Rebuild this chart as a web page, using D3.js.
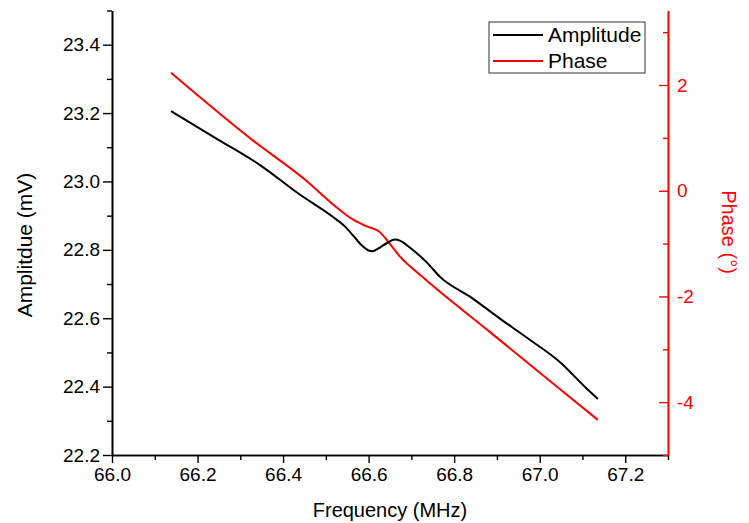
<!DOCTYPE html>
<html>
<head>
<meta charset="utf-8">
<script src="https://cdn.jsdelivr.net/npm/d3@7"></script>
<style>
  body { margin: 0; background: #fff; }
  text { font-family: "Liberation Sans", Arial, sans-serif; }
</style>
</head>
<body>
<div id="chart"></div>
<script>
// data
var ampFreq  = [66.138, 66.246, 66.346, 66.440, 66.517, 66.545, 66.565, 66.585, 66.600, 66.610, 66.620,
                66.643, 66.662, 66.673, 66.697, 66.737, 66.767, 66.837, 66.907, 66.977, 67.047, 67.106, 67.136];
var ampValue = [23.206, 23.124, 23.048, 22.961, 22.896, 22.868, 22.840, 22.812, 22.798, 22.796, 22.802,
                22.820, 22.830, 22.827, 22.806, 22.762, 22.721, 22.663, 22.599, 22.537, 22.472, 22.399, 22.364];

var phaseFreq  = [66.138, 66.327, 66.451, 66.517, 66.563, 66.596, 66.627, 66.645, 66.673, 66.727, 66.884, 67.047, 67.136];
var phaseValue = [2.231, 0.967, 0.212, -0.260, -0.543, -0.675, -0.788, -0.958, -1.241, -1.637, -2.675, -3.750, -4.335];

var xTicks = [66.0, 66.2, 66.4, 66.6, 66.8, 67.0, 67.2];
var xMinor = [66.1, 66.3, 66.5, 66.7, 66.9, 67.1, 67.3];
var ampTicks = [22.2, 22.4, 22.6, 22.8, 23.0, 23.2, 23.4];
var ampMinor = [22.3, 22.5, 22.7, 22.9, 23.1, 23.3, 23.5];
var phaseTicks = [-4, -2, 0, 2];
var phaseMinor = [-5, -3, -1, 1, 3];

var width = 749, height = 523;
var pLeft = 112, pRight = 668, pTop = 10.5, pBottom = 455;

var svg = d3.select("#chart")
  .append("svg")
    .attr("width", width)
    .attr("height", height);

var x = d3.scaleLinear().domain([66.0, 67.3]).range([pLeft, pRight]);
var yA = d3.scaleLinear().domain([22.2, 23.5]).range([pBottom, pTop]);
var yP = d3.scaleLinear().domain([-5, 3.41]).range([pBottom, pTop]);

function style(g, color) {
  g.select(".domain").attr("stroke", color).attr("stroke-width", 1.6);
  g.selectAll(".tick line").attr("stroke", color).attr("stroke-width", 1.4);
  g.selectAll(".tick text").attr("fill", color).style("font-size", "19px")
    .style("font-family", "'Liberation Sans', Arial, sans-serif");
}

// bottom axis
var gx = svg.append("g")
  .attr("transform", "translate(0," + pBottom + ")")
  .call(d3.axisBottom(x).tickValues(xTicks).tickFormat(d3.format(".1f")).tickSize(8).tickSizeOuter(0).tickPadding(5));
style(gx, "#000");
var gx2 = svg.append("g")
  .attr("transform", "translate(0," + pBottom + ")")
  .call(d3.axisBottom(x).tickValues(xMinor).tickFormat("").tickSize(5).tickSizeOuter(0));
style(gx2, "#000");

// left axis
var gy = svg.append("g")
  .attr("transform", "translate(" + pLeft + ",0)")
  .call(d3.axisLeft(yA).tickValues(ampTicks).tickFormat(d3.format(".1f")).tickSize(9).tickSizeOuter(0).tickPadding(3));
style(gy, "#000");
var gy2 = svg.append("g")
  .attr("transform", "translate(" + pLeft + ",0)")
  .call(d3.axisLeft(yA).tickValues(ampMinor).tickFormat("").tickSize(5).tickSizeOuter(0));
style(gy2, "#000");

// right axis (ticks point inward)
var gr = svg.append("g")
  .attr("transform", "translate(" + pRight + ",0)")
  .call(d3.axisRight(yP).tickValues(phaseTicks).tickFormat(d3.format("d")).tickSizeInner(-9).tickSizeOuter(0).tickPadding(9));
style(gr, "#f00");
gr.selectAll(".tick text").text(function(d) { return d < 0 ? "-" + Math.abs(d) : d; });
var gr2 = svg.append("g")
  .attr("transform", "translate(" + pRight + ",0)")
  .call(d3.axisRight(yP).tickValues(phaseMinor).tickFormat("").tickSizeInner(-5).tickSizeOuter(0));
style(gr2, "#f00");

// lines
var ampData = ampFreq.map(function(f, i) { return [f, ampValue[i]]; });
var phaseData = phaseFreq.map(function(f, i) { return [f, phaseValue[i]]; });

svg.append("path")
  .datum(phaseData)
  .attr("fill", "none")
  .attr("stroke", "#f00")
  .attr("stroke-width", 2)
  .attr("d", d3.line().curve(d3.curveMonotoneX)
    .x(function(d) { return x(d[0]); })
    .y(function(d) { return yP(d[1]); }));

svg.append("path")
  .datum(ampData)
  .attr("fill", "none")
  .attr("stroke", "#000")
  .attr("stroke-width", 2)
  .attr("d", d3.line().curve(d3.curveMonotoneX)
    .x(function(d) { return x(d[0]); })
    .y(function(d) { return yA(d[1]); }));

// axis titles
svg.append("text")
  .attr("x", (pLeft + pRight) / 2)
  .attr("y", 517)
  .attr("text-anchor", "middle")
  .style("font-size", "20px")
  .text("Frequency (MHz)");

svg.append("text")
  .attr("transform", "translate(32,245) rotate(-90)")
  .attr("text-anchor", "middle")
  .style("font-size", "21px")
  .text("Amplitdue (mV)");

svg.append("text")
  .attr("transform", "translate(722,232) rotate(90)")
  .attr("text-anchor", "middle")
  .attr("fill", "#f00")
  .style("font-size", "20px")
  .text("Phase (°)");

// legend
var legend = svg.append("g");
legend.append("rect")
  .attr("x", 489).attr("y", 22)
  .attr("width", 156).attr("height", 51)
  .attr("fill", "#fff").attr("stroke", "#333").attr("stroke-width", 1);
var items = [["Amplitude", "#000"], ["Phase", "#f00"]];
items.forEach(function(it, i) {
  var yy = 35 + i * 26;
  legend.append("line")
    .attr("x1", 493).attr("x2", 543)
    .attr("y1", yy).attr("y2", yy)
    .attr("stroke", it[1]).attr("stroke-width", 2);
  legend.append("text")
    .attr("x", 548).attr("y", yy + 7)
    .style("font-size", "21px")
    .text(it[0]);
});
</script>
</body>
</html>
